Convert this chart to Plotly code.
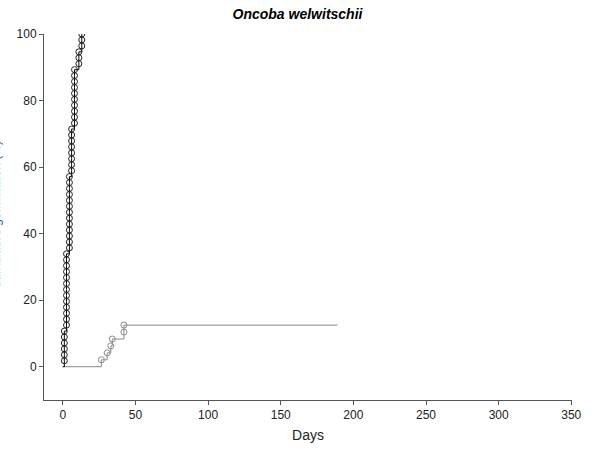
import plotly.graph_objects as go

# ---- data ----
title_text = "Oncoba welwitschii"
x_title = "Days"
y_title = "Cumulative germination (%)"

# black series: germination day groups and number of seeds germinating on each
black_days = [1, 2.5, 4.5, 6, 8, 11, 13]
black_counts = [6, 13, 13, 8, 10, 3, 3]
black_total = 56

# grey series
grey_days = [26.5, 30.5, 33, 34, 42]
grey_counts = [1, 1, 1, 1, 2]
grey_total = 48
grey_end_day = 189

x_ticks = [0, 50, 100, 150, 200, 250, 300, 350]
y_ticks = [0, 20, 40, 60, 80, 100]


def expand(days, counts, total):
    xs, ys = [], []
    n = 0
    for d, c in zip(days, counts):
        for _ in range(c):
            n += 1
            xs.append(d)
            ys.append(100.0 * n / total)
    return xs, ys


bx, by = expand(black_days, black_counts, black_total)
gx, gy = expand(grey_days, grey_counts, grey_total)

fig = go.Figure()

GREY = "#8a8a8a"

# grey step line (starts at day 0, runs to end of observation)
fig.add_trace(go.Scatter(x=[0] + gx + [grey_end_day], y=[0] + gy + [gy[-1]],
                         mode="lines", line=dict(color=GREY, width=1, shape="hv"),
                         showlegend=False, hoverinfo="skip"))
fig.add_trace(go.Scatter(x=gx, y=gy, mode="markers",
                         marker=dict(symbol="circle-open", size=6, color=GREY,
                                     line=dict(width=1, color=GREY)),
                         showlegend=False))

# black step line
fig.add_trace(go.Scatter(x=[0] + bx, y=[0] + by,
                         mode="lines", line=dict(color="black", width=1, shape="hv"),
                         showlegend=False, hoverinfo="skip"))
fig.add_trace(go.Scatter(x=bx, y=by, mode="markers",
                         marker=dict(symbol="circle-open", size=6, color="#222222",
                                     line=dict(width=1, color="#222222")),
                         showlegend=False))

FONT = "Liberation Sans, Arial, sans-serif"

fig.update_layout(
    width=595, height=454,
    margin=dict(l=44, r=23, t=34, b=54),
    paper_bgcolor="white", plot_bgcolor="white",
    font=dict(family=FONT, size=12, color="#222222"),
    title=dict(text="<b><i>" + title_text + "</i></b>", x=0.5, xanchor="center",
               y=1 - 14 / 454, yanchor="middle", font=dict(size=14, color="black")),
    xaxis=dict(range=[-13, 350.5], tickvals=x_ticks, ticks="outside", ticklen=4,
               tickcolor="#555555", showline=True, linecolor="#555555", linewidth=1,
               showgrid=False, zeroline=False,
               title=dict(text=x_title, font=dict(size=14, color="#222222"), standoff=8)),
    yaxis=dict(range=[-10, 100], tickvals=y_ticks, ticks="outside", ticklen=4,
               tickcolor="#555555", showline=True, linecolor="#555555", linewidth=1,
               showgrid=False, zeroline=False),
    showlegend=False,
)

# y-axis title, clipped at the far left edge as in the reference
fig.add_annotation(text=y_title, textangle=-90, xref="paper", yref="paper",
                   x=(5 - 44) / 528, y=0.505, xanchor="right", yanchor="middle",
                   showarrow=False, font=dict(size=12, color="#3a5f8f"))

fig.write_html("out.html")
